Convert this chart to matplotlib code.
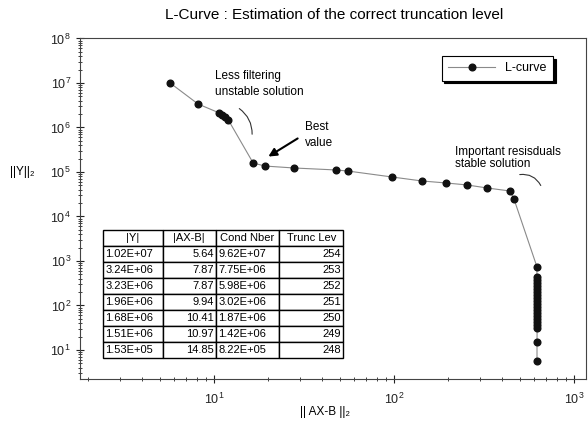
import matplotlib
matplotlib.use("Agg")
import matplotlib.pyplot as plt
from matplotlib.ticker import LogLocator, NullFormatter

plt.rcParams['font.family'] = ['Liberation Sans', 'DejaVu Sans']

# L-curve points
res_norm = [5.70, 8.15, 10.7, 11.1, 11.5, 12.0, 16.5, 19.2, 27.8, 47.6, 55.5,
            97.5, 143, 195, 255, 329, 441, 464, 623,
            622, 623, 624, 622, 623, 624, 622, 623, 624, 622, 623, 624, 622, 623,
            624, 622, 623, 624, 623, 623]
sol_norm = [1.0e7, 3.37e6, 2.12e6, 1.91e6, 1.72e6, 1.48e6, 1.59e5, 1.36e5, 1.23e5,
            1.11e5, 1.05e5, 7.72e4, 6.28e4, 5.66e4, 5.11e4, 4.37e4, 3.74e4, 2.47e4, 733,
            437, 374, 321, 274, 235, 201, 172, 148, 126, 108, 92.6, 79.2, 67.8, 58.0,
            49.7, 42.6, 36.5, 31.2, 15.1, 5.66]

# table in the lower left corner
col_labels = ["|Y|", "|AX-B|", "Cond Nber", "Trunc Lev"]
y_col = ["1.02E+07", "3.24E+06", "3.23E+06", "1.96E+06", "1.68E+06", "1.51E+06", "1.53E+05"]
res_col = ["5.64", "7.87", "7.87", "9.94", "10.41", "10.97", "14.85"]
cond_col = ["9.62E+07", "7.75E+06", "5.98E+06", "3.02E+06", "1.87E+06", "1.42E+06", "8.22E+05"]
trunc_col = ["254", "253", "252", "251", "250", "249", "248"]

fig = plt.figure(figsize=(5.88, 4.26), dpi=100)
ax = fig.add_axes([80/588, 47/426, 506/588, 341/426])

ax.plot(res_norm, sol_norm, color="#8a8a8a", lw=0.8, marker="o", markersize=4.8,
        markerfacecolor="#111111", markeredgecolor="#111111", label="L-curve")

ax.set_xscale("log")
ax.set_yscale("log")
ax.set_xlim(1.80, 1166)
ax.set_ylim(2.23, 1.025e8)
ax.yaxis.set_major_locator(LogLocator(base=10, numticks=12))
ax.yaxis.set_minor_locator(LogLocator(base=10, subs=range(2, 10), numticks=12))
ax.yaxis.set_minor_formatter(NullFormatter())
ax.xaxis.set_minor_formatter(NullFormatter())
ax.tick_params(which="both", direction="inout", labelsize=9, colors="#222222")
ax.tick_params(axis="x", pad=6)
ax.tick_params(which="major", length=6)
ax.tick_params(which="minor", length=3)
for s in ax.spines.values():
    s.set_color("#444444")

fig.text(334/588, 1 - 15/426, "L-Curve : Estimation of the correct truncation level",
         ha="center", va="center", fontsize=11)
fig.text(22/588, 1 - 172/426, "||Y||₂", ha="center", va="center", fontsize=8.5)
fig.text(325/588, 1 - 412/426, "|| AX-B ||₂", ha="center", va="center", fontsize=8.5)

def fr(px, py):
    return ((px - 80) / 506, (379 - py) / 341)

ax.text(*fr(215, 84), "Less filtering\nunstable solution", transform=ax.transAxes,
        ha="left", va="center", fontsize=8.5, linespacing=1.5)
ax.annotate("", xy=fr(237, 107), xytext=fr(252, 137), xycoords="axes fraction",
            textcoords="axes fraction",
            arrowprops=dict(arrowstyle="-", lw=0.8, color="#333333",
                            connectionstyle="arc3,rad=0.3"))
ax.text(*fr(305, 135), "Best\nvalue", transform=ax.transAxes,
        ha="left", va="center", fontsize=8.5, linespacing=1.4)
ax.annotate("", xy=fr(266, 158), xytext=fr(300, 137), xycoords="axes fraction",
            textcoords="axes fraction",
            arrowprops=dict(arrowstyle="-|>", lw=1.5, color="black", mutation_scale=12))
ax.text(*fr(455, 158), "Important resisduals\nstable solution", transform=ax.transAxes,
        ha="left", va="center", fontsize=8.5, linespacing=1.1)
ax.annotate("", xy=fr(542, 188), xytext=fr(517, 175), xycoords="axes fraction",
            textcoords="axes fraction",
            arrowprops=dict(arrowstyle="-", lw=0.8, color="#333333",
                            connectionstyle="arc3,rad=-0.4"))

leg = ax.legend(loc="upper right", bbox_to_anchor=(0.947, 0.965), frameon=True,
                fancybox=False, shadow={"color": "black", "alpha": 1},
                fontsize=9, handlelength=3.8, borderpad=0.5)
leg.get_frame().set_edgecolor("black")
leg.get_frame().set_linewidth(0.8)

rows = [list(r) for r in zip(y_col, res_col, cond_col, trunc_col)]
tab = ax.table(cellText=rows, colLabels=col_labels,
               colWidths=[0.25, 0.22, 0.265, 0.265],
               bbox=[0.045, 0.062, 0.475, 0.375])
tab.auto_set_font_size(False)
tab.set_fontsize(8)
aligns = ["left", "right", "left", "right"]
for (r, c), cell in tab.get_celld().items():
    cell.set_linewidth(1.0)
    cell.set_edgecolor("black")
    if r == 0:
        cell.get_text().set_ha("center")
    else:
        cell.get_text().set_ha(aligns[c])
    cell.PAD = 0.04

fig.savefig("out.png", dpi=100)
